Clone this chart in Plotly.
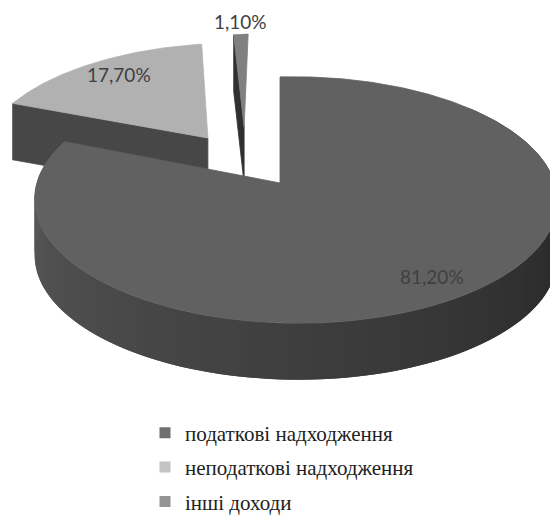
import numpy as np
import plotly.graph_objects as go

# ---- data ----
categories = ["податкові надходження", "неподаткові надходження", "інші доходи"]
values = [81.2, 17.7, 1.1]
value_labels = [f"{v:.2f}".replace(".", ",") + "%" for v in values]

# ---- style ----
top_colors = ["#616161", "#b1b1b1", "#808080"]
side_colors = ["#3a3a3a", "#474747", "#303030"]
legend_colors = ["#6f6f6f", "#c3c3c3", "#939393"]
explode = [(0.0, 0.0), (-0.30, 0.40), (-0.15, 0.50)]   # (du, dv) in pie-radius units
label_k = [0.8, 0.75, 1.0]
label_shift = [(22, -3), (0, 6), (0, -1)]
label_anchor = ["middle", "middle", "bottom"]

W, H = 550, 522
CX, CY, R, RY = 280, 188, 258, 124
P_V, P_U = 0.138, 0.061
THICK = 58


def proj(u, v, h=0.0):
    s = 1.0 / (1.0 + P_V * v - P_U * u)
    return CX + R * u * s, CY - RY * v * s + h


def arc(a0, a1, n):
    ph = np.radians(np.linspace(a0, a1, n))
    return np.sin(ph), np.cos(ph)


total = sum(values)
bounds = np.concatenate([[0], np.cumsum(values) / total * 360.0])

fig = go.Figure()


def poly(xs, ys, color, lw=0.8):
    fig.add_trace(go.Scatter(
        x=list(xs) + [xs[0]], y=list(ys) + [ys[0]], mode="lines", fill="toself",
        fillcolor=color, line=dict(color=color, width=lw),
        hoverinfo="skip", showlegend=False))


def slice_top(i):
    a0, a1 = bounds[i], bounds[i + 1]
    du, dv = explode[i]
    n = max(int((a1 - a0) * 2), 4)
    u, v = arc(a0, a1, n)
    pts = [proj(du, dv)] + [proj(uu + du, vv + dv) for uu, vv in zip(u, v)]
    xs, ys = zip(*pts)
    poly(xs, ys, top_colors[i])


def radial_face(i, angle):
    du, dv = explode[i]
    ph = np.radians(angle)
    uu, vv = np.sin(ph) + du, np.cos(ph) + dv
    pts = [proj(du, dv), proj(uu, vv), proj(uu, vv, THICK), proj(du, dv, THICK)]
    xs, ys = zip(*pts)
    poly(xs, ys, side_colors[i])


def wall_color(angle):
    t = (angle - 90.0) / 180.0
    t = min(max(t, 0.0), 1.0)
    c = int(round(0x26 + (0x58 - 0x26) * t))
    return f"rgb({c},{c},{c})"


# light slice (back-left)
radial_face(1, bounds[1])
slice_top(1)
# thin slice
radial_face(2, bounds[2])
slice_top(2)
# main slice walls (overlapping segments to avoid seams)
a0, a1 = max(bounds[0], 50), min(bounds[1], 300)
step = 2.0
edges = np.arange(a0, a1 + 0.001, step)
if edges[-1] < a1:
    edges = np.append(edges, a1)
du, dv = explode[0]
for e0, e1 in zip(edges[:-1], edges[1:]):
    e1x = min(e1 + step, a1)
    u, v = arc(e0, e1x, 5)
    topp = [proj(uu + du, vv + dv) for uu, vv in zip(u, v)]
    botp = [proj(uu + du, vv + dv, THICK) for uu, vv in zip(u, v)]
    pts = topp + botp[::-1]
    xs, ys = zip(*pts)
    poly(xs, ys, wall_color((e0 + e1) / 2), lw=0)
slice_top(0)

# value labels
for i in range(3):
    mid = np.radians((bounds[i] + bounds[i + 1]) / 2)
    du, dv = explode[i]
    k = label_k[i]
    lx, ly = proj(du + k * np.sin(mid), dv + k * np.cos(mid))
    fig.add_annotation(x=lx, y=ly, text=value_labels[i], showarrow=False,
                       xshift=label_shift[i][0], yshift=label_shift[i][1],
                       yanchor=label_anchor[i],
                       font=dict(family="Lato", size=19, color="#404040"))

# legend entries
for i, name in enumerate(categories):
    fig.add_trace(go.Scatter(
        x=[None], y=[None], mode="markers", name=name, legendgroup=str(i),
        marker=dict(symbol="square", size=11, color=legend_colors[i])))

fig.update_layout(
    width=W, height=H, margin=dict(l=0, r=0, t=0, b=0),
    paper_bgcolor="white", plot_bgcolor="white",
    xaxis=dict(range=[0, W], visible=False, fixedrange=True),
    yaxis=dict(range=[H, 0], visible=False, fixedrange=True),
    showlegend=True,
    legend=dict(x=145 / W, y=1 - 424 / H, xanchor="left", yanchor="top",
                bgcolor="rgba(0,0,0,0)", tracegroupgap=4,
                font=dict(family="Liberation Serif", size=21, color="#222222")),
)

fig.write_html("out.html", config={"displayModeBar": False},
               post_script="document.body.style.margin='0';document.body.style.overflow='hidden';")
